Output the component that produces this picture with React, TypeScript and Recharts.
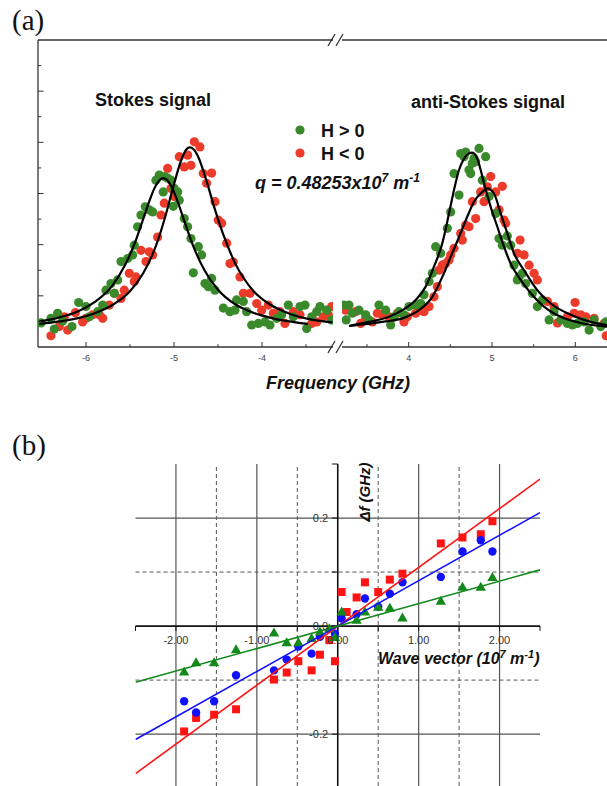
import React from 'react';
import { ScatterChart, Scatter, XAxis, YAxis, ReferenceLine } from 'recharts';

const FONT = '"Liberation Sans", Arial, Helvetica, sans-serif';
const SERIF = '"Liberation Serif", "Times New Roman", serif';
const AXIS = '#333333';
const GREEN_A = '#3a8a2c';
const RED_A = '#ec3b2b';
const RED_B = '#ff1414';
const BLUE_B = '#1010ff';
const GREEN_B = '#12891a';

// ---------- Panel (a): Brillouin spectra (frequency in GHz, intensity arb.) ----------
const FREQ_TICKS_LEFT = [-6, -5.5, -5, -4.5, -4, -3.5];
const FREQ_TICKS_RIGHT = [3.5, 4, 4.5, 5, 5.5, 6];
const INTENSITY_TICKS = [0.5, 1, 1.5, 2, 2.5, 3, 3.5, 4, 4.5, 5, 5.5];

const stokesGreen: [number, number][] = [
  [-6.511, 0.47], [-6.398, 0.56], [-6.322, 0.66], [-6.36, 0.35], [-6.265, 0.51], [-6.159, 0.4],
  [-6.083, 0.87], [-6.0, 0.79], [-5.962, 0.59], [-5.867, 0.69], [-5.81, 0.82], [-5.773, 1.11],
  [-5.716, 1.24], [-5.678, 1.05], [-5.64, 1.31], [-5.602, 1.67], [-5.526, 1.73], [-5.47, 1.8],
  [-5.451, 1.99], [-5.413, 2.35], [-5.375, 2.58], [-5.326, 2.74], [-5.28, 2.68], [-5.242, 2.64],
  [-5.205, 3.26], [-5.167, 3.36], [-5.11, 3.33], [-5.072, 3.3], [-5.034, 3.26], [-5.122, 3.03],
  [-4.997, 3.1], [-4.958, 3.03], [-5.008, 2.75], [-4.94, 2.87], [-4.883, 2.51], [-4.845, 2.35],
  [-4.807, 2.12], [-4.78, 1.45], [-4.723, 1.96], [-4.686, 1.8], [-4.648, 1.24], [-4.572, 1.34],
  [-4.61, 1.18], [-4.534, 1.11], [-4.439, 0.76], [-4.364, 0.69], [-4.288, 0.92], [-4.212, 0.89],
  [-4.307, 0.72], [-4.174, 0.69], [-4.117, 0.43], [-4.042, 0.46], [-3.966, 0.49], [-3.909, 0.43],
  [-3.833, 0.56], [-3.776, 0.63], [-3.701, 0.82], [-3.644, 0.59], [-3.568, 0.79], [-3.511, 0.82],
  [-3.492, 0.36], [-3.435, 0.59], [-3.378, 0.69], [-3.341, 0.79], [-3.265, 0.72], [-3.21, 0.53],
];

const stokesRed: [number, number][] = [
  [-6.398, 0.22], [-6.303, 0.4], [-6.208, 0.33], [-6.246, 0.59], [-6.121, 0.67], [-6.038, 0.49],
  [-6.0, 0.56], [-5.924, 0.63], [-5.848, 0.63], [-5.81, 0.56], [-5.735, 0.82], [-5.678, 1.05],
  [-5.602, 0.95], [-5.565, 1.11], [-5.508, 1.44], [-5.432, 1.37], [-5.451, 1.28], [-5.375, 1.89],
  [-5.318, 1.67], [-5.28, 1.86], [-5.242, 1.8], [-5.186, 2.15], [-5.148, 2.58], [-5.11, 2.81],
  [-5.072, 3.49], [-5.034, 3.1], [-4.997, 2.94], [-4.94, 3.72], [-4.883, 3.52], [-4.845, 3.75],
  [-4.807, 3.55], [-4.769, 4.01], [-4.705, 3.91], [-4.667, 3.39], [-4.572, 3.4], [-4.629, 3.2],
  [-4.534, 2.84], [-4.497, 2.48], [-4.458, 2.42], [-4.401, 2.03], [-4.364, 1.63], [-4.326, 1.66],
  [-4.25, 1.37], [-4.212, 1.05], [-4.136, 1.05], [-4.06, 0.85], [-4.003, 0.72], [-3.928, 0.82],
  [-3.871, 0.66], [-3.795, 0.69], [-3.739, 0.46], [-3.644, 0.69], [-3.568, 0.63], [-3.435, 0.46],
  [-3.378, 0.49], [-3.303, 0.59], [-3.208, 0.79], [-3.246, 0.63],
];

const antiStokesGreen: [number, number][] = [
  [3.22, 0.82], [3.25, 0.53], [3.284, 0.82], [3.324, 0.66], [3.404, 0.72], [3.484, 0.63],
  [3.524, 0.53], [3.644, 0.82], [3.724, 0.72], [3.784, 0.43], [3.824, 0.59], [3.884, 0.69],
  [3.944, 0.63], [4.004, 0.79], [4.084, 0.82], [4.144, 0.85], [4.184, 1.02], [4.244, 1.28],
  [4.284, 1.44], [4.324, 1.96], [4.384, 1.83], [4.464, 2.32], [4.504, 2.64], [4.544, 3.39],
  [4.604, 2.97], [4.624, 3.78], [4.664, 3.72], [4.684, 3.81], [4.724, 3.46], [4.744, 3.39],
  [4.764, 3.59], [4.784, 3.69], [4.804, 3.62], [4.844, 3.88], [4.884, 3.26], [4.924, 3.72],
  [4.964, 2.94], [5.044, 2.61], [5.084, 2.12], [5.124, 1.99], [5.184, 2.17], [5.224, 1.99],
  [5.264, 1.6], [5.324, 1.37], [5.304, 1.31], [5.364, 1.44], [5.404, 1.24], [5.484, 1.05],
  [5.544, 0.79], [5.604, 0.92], [5.685, 0.53], [5.745, 0.69], [5.825, 0.53], [5.905, 0.46],
  [5.965, 0.43], [6.025, 0.46], [6.105, 0.49], [6.165, 0.33], [6.225, 0.53], [6.305, 0.4],
  [6.365, 0.49],
];

const antiStokesRed: [number, number][] = [
  [3.244, 0.72], [3.364, 0.69], [3.424, 0.46], [3.484, 0.56], [3.564, 0.49], [3.624, 0.66],
  [3.684, 0.63], [3.764, 0.59], [3.864, 0.66], [3.944, 0.49], [3.984, 0.59], [4.084, 0.66],
  [4.144, 0.72], [4.184, 0.69], [4.244, 0.79], [4.304, 0.98], [4.344, 1.18], [4.364, 1.5],
  [4.404, 1.6], [4.444, 1.63], [4.484, 1.7], [4.504, 1.8], [4.544, 1.93], [4.624, 2.22],
  [4.644, 2.09], [4.684, 2.38], [4.724, 2.35], [4.764, 2.84], [4.804, 2.51], [4.864, 3.03],
  [4.904, 2.84], [4.984, 3.33], [4.944, 3.13], [5.044, 3.03], [5.124, 3.14], [5.084, 2.68],
  [5.144, 2.48], [5.164, 2.42], [5.337, 2.09], [5.304, 1.83], [5.385, 1.8], [5.445, 1.6],
  [5.505, 1.44], [5.544, 1.31], [5.665, 0.89], [5.745, 0.79], [5.785, 0.47], [5.905, 0.59],
  [5.985, 0.66], [5.997, 0.87], [6.065, 0.63], [6.125, 0.59], [6.225, 0.56], [6.345, 0.46],
  [6.37, 0.22],
];

const stokesGreenFit: [number, number][] = [
  [-6.53, 0.5], [-6.3, 0.58], [-6.1, 0.69], [-5.9, 0.88], [-5.7, 1.2], [-5.55, 1.62], [-5.45, 2.01],
  [-5.35, 2.5], [-5.28, 2.85], [-5.22, 3.11], [-5.17, 3.25], [-5.12, 3.3], [-5.07, 3.25], [-5.02, 3.11],
  [-4.96, 2.85], [-4.89, 2.5], [-4.79, 2.01], [-4.65, 1.49], [-4.5, 1.12], [-4.3, 0.83], [-4.1, 0.67],
  [-3.9, 0.57], [-3.65, 0.49], [-3.48, 0.45],
];

const stokesRedFit: [number, number][] = [
  [-6.53, 0.45], [-6.3, 0.5], [-6.1, 0.56], [-5.9, 0.66], [-5.7, 0.82], [-5.5, 1.09], [-5.35, 1.44],
  [-5.2, 2.0], [-5.1, 2.54], [-5.0, 3.18], [-4.92, 3.64], [-4.86, 3.86], [-4.82, 3.9], [-4.78, 3.87],
  [-4.72, 3.7], [-4.64, 3.3], [-4.54, 2.72], [-4.44, 2.2], [-4.3, 1.62], [-4.1, 1.1], [-3.9, 0.82],
  [-3.7, 0.66], [-3.45, 0.54], [-3.2, 0.48],
];

const antiStokesGreenFit: [number, number][] = [
  [3.284, 0.41], [3.524, 0.49], [3.764, 0.59], [3.924, 0.72], [4.084, 0.92], [4.204, 1.18],
  [4.304, 1.57], [4.404, 2.03], [4.484, 2.61], [4.544, 3.07], [4.604, 3.46], [4.664, 3.68],
  [4.72, 3.78], [4.764, 3.8], [4.824, 3.68], [4.884, 3.33], [4.904, 3.2], [4.984, 2.74],
  [5.064, 2.35], [5.144, 1.96], [5.224, 1.63], [5.344, 1.31], [5.465, 1.05], [5.624, 0.79],
  [5.825, 0.59], [6.065, 0.47], [6.38, 0.4],
];

const antiStokesRedFit: [number, number][] = [
  [3.284, 0.41], [3.724, 0.5], [3.924, 0.56], [4.124, 0.72], [4.284, 0.98], [4.404, 1.37],
  [4.504, 1.76], [4.604, 2.15], [4.704, 2.55], [4.784, 2.84], [4.884, 3.03], [4.944, 3.1],
  [5.024, 3.0], [5.104, 2.61], [5.184, 2.22], [5.264, 1.83], [5.385, 1.5], [5.544, 1.11],
  [5.705, 0.85], [5.945, 0.63], [6.185, 0.49], [6.38, 0.43],
];

// ---------- Panel (b): dispersion Δf vs wave vector ----------
const WAVE_GRID_SOLID = [-2, -1, 1, 2];
const WAVE_GRID_DASHED = [-1.5, -0.5, 0.5, 1.5];
const DF_GRID_SOLID = [-0.2, 0.2];
const DF_GRID_DASHED = [-0.1, 0.1];
const WAVE_TICKS = [-2.5, -2, -1.5, -1, -0.5, 0, 0.5, 1, 1.5, 2, 2.5];
const WAVE_TICK_LABELS = [-2, -1, 0, 1, 2];
const DF_TICKS = [-0.2, -0.1, 0, 0.1, 0.2, 0.3];
const DF_TICK_LABELS = [-0.2, 0, 0.2];

const redSquares: [number, number][] = [
  [-1.899, -0.195], [-1.751, -0.17], [-1.528, -0.164], [-1.257, -0.154], [-0.788, -0.099],
  [-0.631, -0.086], [-0.487, -0.065], [-0.323, -0.082], [-0.22, -0.053], [-0.104, -0.026],
  [-0.035, -0.065], [0.048, 0.063], [0.11, 0.026], [0.233, 0.053], [0.336, 0.081], [0.5, 0.063],
  [0.644, 0.086], [0.8, 0.097], [1.274, 0.153], [1.542, 0.164], [1.768, 0.17], [1.912, 0.194],
];

const blueCircles: [number, number][] = [
  [-1.899, -0.139], [-1.751, -0.16], [-1.528, -0.139], [-1.257, -0.091], [-0.788, -0.082],
  [-0.631, -0.062], [-0.487, -0.038], [-0.323, -0.051], [-0.22, -0.02], [-0.035, -0.014],
  [0.048, 0.014], [0.233, 0.022], [0.336, 0.051], [0.5, 0.036], [0.644, 0.06], [0.8, 0.081],
  [1.274, 0.091], [1.542, 0.138], [1.768, 0.159], [1.912, 0.138],
];

const greenTriangles: [number, number][] = [
  [-1.899, -0.085], [-1.751, -0.068], [-1.528, -0.068], [-1.257, -0.044], [-0.788, -0.013],
  [-0.631, -0.031], [-0.487, -0.031], [-0.323, -0.023], [-0.22, -0.011], [-0.104, -0.005],
  [-0.035, -0.021], [0.048, 0.026], [0.233, 0.011], [0.336, 0.026], [0.5, 0.035], [0.644, 0.033],
  [0.8, 0.015], [1.274, 0.046], [1.542, 0.072], [1.768, 0.072], [1.912, 0.09],
];

const redFit: [number, number][] = [[-2.5, -0.273], [2.5, 0.272]];
const blueFit: [number, number][] = [[-2.5, -0.21], [2.5, 0.21]];
const greenFit: [number, number][] = [[-2.5, -0.104], [2.5, 0.104]];

const toXY = (arr: [number, number][]) => arr.map(([x, y]) => ({ x, y }));

// ---------- shapes & ticks ----------
const dot = (color: string) => (p: any) => <circle cx={p.cx} cy={p.cy} r={4.6} fill={color} />;
const noShape = () => <g />;
const squareShape = (p: any) => <rect x={p.cx - 4} y={p.cy - 4} width={8} height={8} fill={RED_B} />;
const circleShape = (p: any) => <circle cx={p.cx} cy={p.cy} r={4.2} fill={BLUE_B} />;
const triShape = (p: any) => (
  <polygon
    points={`${p.cx},${p.cy - 5.5} ${p.cx + 5.2},${p.cy + 3.5} ${p.cx - 5.2},${p.cy + 3.5}`}
    fill={GREEN_B}
  />
);

const FreqTick = (props: any) => {
  const { x, y, payload } = props;
  const v = Number(payload.value);
  const major = Math.abs(v - Math.round(v)) < 1e-6;
  return (
    <g>
      <line x1={x} y1={y} x2={x} y2={y - (major ? 5 : 2.8)} stroke={AXIS} strokeWidth={1} />
      {major && (
        <text x={x} y={y + 14} textAnchor="middle" fontSize={9} fontFamily={FONT} fill="#444">
          {String(v)}
        </text>
      )}
    </g>
  );
};

const IntensityTick = (props: any) => {
  const { x, y, payload } = props;
  const v = Number(payload.value);
  const major = Math.abs(v - Math.round(v)) < 1e-6;
  return <line x1={x} y1={y} x2={x + (major ? 5.5 : 3.3)} y2={y} stroke={AXIS} strokeWidth={1} />;
};

const tickLabelStyle = { fontSize: 11, fill: '#333', fontFamily: FONT };

export default function App() {
  return (
    <div style={{ position: 'absolute', left: 0, top: 0, width: 607, height: 786, overflow: 'hidden', background: '#fff' }}>
      {/* Panel (a) - Stokes side */}
      <div style={{ position: 'absolute', left: 0, top: 0 }}>
        <ScatterChart width={340} height={372} margin={{ top: 40, left: 37, right: 7, bottom: 24 }}>
          <XAxis
            type="number"
            dataKey="x"
            domain={[-6.545, -3.193]}
            allowDataOverflow
            ticks={FREQ_TICKS_LEFT}
            interval={0}
            tick={<FreqTick />}
            tickLine={false}
            tickSize={0}
            tickMargin={0}
            height={1}
            axisLine={{ stroke: AXIS, strokeWidth: 1.3 }}
          />
          <YAxis
            type="number"
            dataKey="y"
            domain={[0, 6]}
            allowDataOverflow
            ticks={INTENSITY_TICKS}
            interval={0}
            tick={<IntensityTick />}
            tickLine={false}
            tickSize={0}
            tickMargin={0}
            width={1}
            axisLine={{ stroke: AXIS, strokeWidth: 1.3 }}
          />
          <ReferenceLine y={6} stroke={AXIS} strokeWidth={1.3} />
          <Scatter data={toXY(stokesRed)} shape={dot(RED_A)} isAnimationActive={false} />
          <Scatter data={toXY(stokesGreen)} shape={dot(GREEN_A)} isAnimationActive={false} />
          <Scatter data={toXY(stokesGreenFit)} shape={noShape} line={{ stroke: '#000', strokeWidth: 2.2 }} lineJointType="monotoneX" isAnimationActive={false} />
          <Scatter data={toXY(stokesRedFit)} shape={noShape} line={{ stroke: '#000', strokeWidth: 2.2 }} lineJointType="monotoneX" isAnimationActive={false} />
        </ScatterChart>
      </div>

      {/* Panel (a) - anti-Stokes side */}
      <div style={{ position: 'absolute', left: 342, top: 0 }}>
        <ScatterChart width={265} height={372} margin={{ top: 40, left: 0, right: 0, bottom: 24 }}>
          <XAxis
            type="number"
            dataKey="x"
            domain={[3.2, 6.38]}
            allowDataOverflow
            ticks={FREQ_TICKS_RIGHT}
            interval={0}
            tick={<FreqTick />}
            tickLine={false}
            tickSize={0}
            tickMargin={0}
            height={1}
            axisLine={{ stroke: AXIS, strokeWidth: 1.3 }}
          />
          <YAxis type="number" dataKey="y" domain={[0, 6]} allowDataOverflow hide />
          <ReferenceLine y={6} stroke={AXIS} strokeWidth={1.3} />
          <Scatter data={toXY(antiStokesRed)} shape={dot(RED_A)} isAnimationActive={false} />
          <Scatter data={toXY(antiStokesGreen)} shape={dot(GREEN_A)} isAnimationActive={false} />
          <Scatter data={toXY(antiStokesGreenFit)} shape={noShape} line={{ stroke: '#000', strokeWidth: 2.2 }} lineJointType="monotoneX" isAnimationActive={false} />
          <Scatter data={toXY(antiStokesRedFit)} shape={noShape} line={{ stroke: '#000', strokeWidth: 2.2 }} lineJointType="monotoneX" isAnimationActive={false} />
        </ScatterChart>
      </div>

      {/* Panel (b) */}
      <div style={{ position: 'absolute', left: 0, top: 430 }}>
        <ScatterChart width={607} height={356} margin={{ top: 34, left: 135.5, right: 67, bottom: 0 }}>
          <XAxis type="number" dataKey="x" domain={[-2.5, 2.5]} allowDataOverflow hide />
          <YAxis type="number" dataKey="y" domain={[-0.296, 0.3]} allowDataOverflow hide />
          {WAVE_GRID_SOLID.map((v) => (
            <ReferenceLine key={`gxs${v}`} x={v} stroke="#555" strokeWidth={1.2} />
          ))}
          {WAVE_GRID_DASHED.map((v) => (
            <ReferenceLine key={`gxd${v}`} x={v} stroke="#555" strokeWidth={1} strokeDasharray="4 3" />
          ))}
          {DF_GRID_SOLID.map((v) => (
            <ReferenceLine key={`gys${v}`} y={v} stroke="#555" strokeWidth={1.2} />
          ))}
          {DF_GRID_DASHED.map((v) => (
            <ReferenceLine key={`gyd${v}`} y={v} stroke="#555" strokeWidth={1} strokeDasharray="4 3" />
          ))}
          <ReferenceLine y={0} stroke="#111" strokeWidth={1.6} />
          <ReferenceLine x={0} stroke="#111" strokeWidth={1.6} />
          {WAVE_TICKS.map((v) => (
            <ReferenceLine
              key={`tx${v}`}
              segment={[{ x: v, y: 0 }, { x: v, y: -0.009 }]}
              stroke="#111"
              strokeWidth={1}
              label={
                WAVE_TICK_LABELS.includes(v)
                  ? { value: v.toFixed(2), position: 'bottom', offset: 5, ...tickLabelStyle }
                  : undefined
              }
            />
          ))}
          {DF_TICKS.map((v) => (
            <ReferenceLine
              key={`ty${v}`}
              segment={[{ x: -0.07, y: v }, { x: 0, y: v }]}
              stroke="#111"
              strokeWidth={1}
              label={
                DF_TICK_LABELS.includes(v)
                  ? { value: v.toFixed(1), position: 'left', offset: 4, ...tickLabelStyle }
                  : undefined
              }
            />
          ))}
          <Scatter data={toXY(redSquares)} shape={squareShape} isAnimationActive={false} />
          <Scatter data={toXY(blueCircles)} shape={circleShape} isAnimationActive={false} />
          <Scatter data={toXY(greenTriangles)} shape={triShape} isAnimationActive={false} />
          <Scatter data={toXY(redFit)} shape={noShape} line={{ stroke: RED_B, strokeWidth: 1.6 }} isAnimationActive={false} />
          <Scatter data={toXY(blueFit)} shape={noShape} line={{ stroke: BLUE_B, strokeWidth: 1.6 }} isAnimationActive={false} />
          <Scatter data={toXY(greenFit)} shape={noShape} line={{ stroke: GREEN_B, strokeWidth: 1.6 }} isAnimationActive={false} />
        </ScatterChart>
      </div>

      {/* Annotations */}
      <svg width={607} height={786} style={{ position: 'absolute', left: 0, top: 0, pointerEvents: 'none' }}>
        <text x={12} y={30} fontFamily={SERIF} fontSize={29} fill="#111">(a)</text>
        <text x={12} y={455} fontFamily={SERIF} fontSize={29} fill="#111">(b)</text>

        {/* axis breaks */}
        <g stroke={AXIS} strokeWidth={1.3}>
          <line x1={328} y1={46} x2={335} y2={34} />
          <line x1={336} y1={46} x2={343} y2={34} />
          <line x1={328} y1={353} x2={335} y2={341} />
          <line x1={336} y1={353} x2={343} y2={341} />
        </g>

        <text x={95} y={106} fontFamily={FONT} fontSize={18} fontWeight="bold" fill="#111">Stokes signal</text>
        <text x={411} y={108} fontFamily={FONT} fontSize={18} fontWeight="bold" fill="#111">anti-Stokes signal</text>

        <circle cx={300} cy={130} r={4.6} fill={GREEN_A} />
        <circle cx={300} cy={153} r={4.6} fill={RED_A} />
        <text x={321} y={137} fontFamily={FONT} fontSize={18} fontWeight="bold" fill="#111">H &gt; 0</text>
        <text x={321} y={160} fontFamily={FONT} fontSize={18} fontWeight="bold" fill="#111">H &lt; 0</text>

        <text x={255} y={189} fontFamily={FONT} fontSize={18} fontWeight="bold" fontStyle="italic" fill="#111">
          q = 0.48253x10<tspan dy={-7} fontSize={12}>7</tspan>
          <tspan dy={7}> m</tspan>
          <tspan dy={-7} fontSize={12}>-1</tspan>
        </text>

        <text x={338} y={389} textAnchor="middle" fontFamily={FONT} fontSize={18} fontWeight="bold" fontStyle="italic" fill="#111">
          Frequency (GHz)
        </text>

        <text x={378} y={664} fontFamily={FONT} fontSize={16} fontWeight="bold" fontStyle="italic" fill="#111">
          Wave vector (10<tspan dy={-6} fontSize={11}>7</tspan>
          <tspan dy={6}> m</tspan>
          <tspan dy={-6} fontSize={11}>-1</tspan>
          <tspan dy={6}>)</tspan>
        </text>

        <text
          x={0}
          y={0}
          transform="translate(370,492) rotate(-90)"
          textAnchor="middle"
          fontFamily={FONT}
          fontSize={15}
          fontWeight="bold"
          fontStyle="italic"
          fill="#111"
        >
          Δf (GHz)
        </text>
      </svg>
    </div>
  );
}
